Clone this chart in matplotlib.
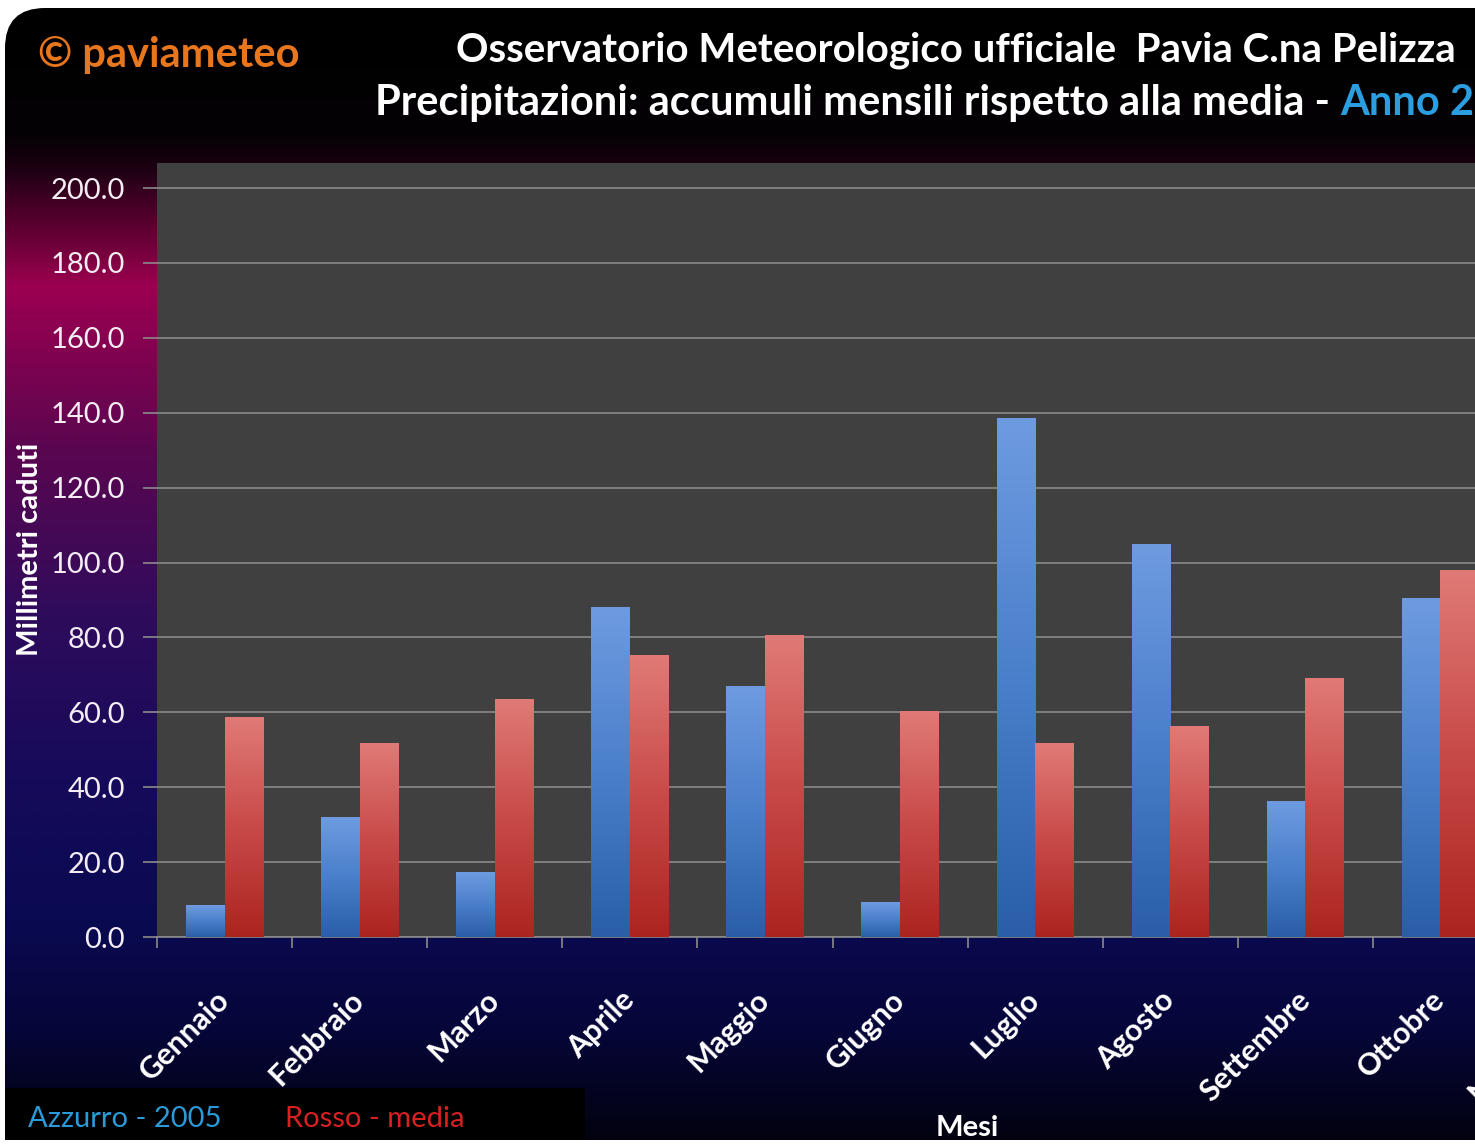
import numpy as np
import matplotlib
matplotlib.use('Agg')
import matplotlib.pyplot as plt
from matplotlib.colors import LinearSegmentedColormap
from matplotlib.patches import FancyBboxPatch, Rectangle

months = ['Gennaio', 'Febbraio', 'Marzo', 'Aprile', 'Maggio', 'Giugno',
          'Luglio', 'Agosto', 'Settembre', 'Ottobre', 'Novembre', 'Dicembre']
# only the first ten months are visible in the picture
rain_2005 = [8.3, 31.8, 17.1, 87.9, 66.8, 9.3, 138.6, 104.7, 36.3, 90.3]
rain_media = [58.5, 51.8, 63.3, 75.3, 80.4, 60.3, 51.8, 56.1, 68.9, 98.0]
yticks = np.arange(0, 201, 20)

W, H = 1475, 1147
plt.rcParams['font.family'] = ['Lato', 'DejaVu Sans']

fig = plt.figure(figsize=(W / 100, H / 100), dpi=100, facecolor='white')

# background with vertical gradient, in pixel coordinates
bg = fig.add_axes([0, 0, 1, 1])
bg.set_xlim(0, W)
bg.set_ylim(H, 0)
bg.axis('off')
stops = [(0, '#000000'), (130, '#040204'), (165, '#1c0012'), (285, '#9c0050'),
         (450, '#5a0650'), (620, '#2e0c5c'), (780, '#160a5a'), (920, '#0a0a52'),
         (1030, '#06063a'), (1147, '#02020e')]
cmap_bg = LinearSegmentedColormap.from_list('bg', [(p / H, c) for p, c in stops])
grad = np.linspace(0, 1, 500).reshape(-1, 1)
im = bg.imshow(grad, cmap=cmap_bg, extent=[0, W, H, 0], aspect='auto', zorder=0)
frame = FancyBboxPatch((5, 8), W + 100, H + 100, boxstyle='round,pad=0,rounding_size=40',
                       transform=bg.transData, facecolor='none', edgecolor='none')
bg.add_patch(frame)
im.set_clip_path(frame)
# white strip at very bottom and black legend box
bg.add_patch(Rectangle((0, 1140), W, 10, facecolor='white', edgecolor='none', zorder=2))
bg.add_patch(Rectangle((5, 1088), 580, 52, facecolor='black', edgecolor='none', zorder=3))

# main plot
cat_w = 135.1
ax = fig.add_axes([157 / W, 210 / H, 12 * cat_w / W, (937 - 163) / H])
ax.set_facecolor('#404040')

x = np.arange(len(rain_2005)) + 0.5
w = 0.2857
bars_b = ax.bar(x - w / 2, rain_2005, width=w, color='#4a7cc8', zorder=3)
bars_r = ax.bar(x + w / 2, rain_media, width=w, color='#c84a48', zorder=3)

cm_blue = LinearSegmentedColormap.from_list('b', ['#2a5ea8', '#4a7fcb', '#6e9be0'])
cm_red = LinearSegmentedColormap.from_list('r', ['#ac2420', '#c84a48', '#e07a76'])
g = np.linspace(0, 1, 200).reshape(-1, 1)
for bars, cm in ((bars_b, cm_blue), (bars_r, cm_red)):
    for b in bars:
        bx, by = b.get_x(), b.get_y()
        bw, bh = b.get_width(), b.get_height()
        ax.imshow(g, cmap=cm, origin='lower', extent=[bx, bx + bw, by, by + bh],
                  aspect='auto', zorder=4)
ax.set_xlim(0, 12)
ax.set_ylim(0, 206.7)

ax.set_yticks(yticks)
ax.set_yticklabels(['%.1f' % v for v in yticks])
ax.yaxis.grid(True, color='#8a8a8a', linewidth=1.2, zorder=1)
ax.set_axisbelow(True)
ax.tick_params(axis='y', length=10, width=1.2, color='#8a8a8a', pad=13,
               labelcolor='#f4eef4', labelsize=21)

ax.set_xticks(np.arange(0, 13))
ax.set_xticklabels([])
ax.set_xticks(np.arange(12) + 0.5, minor=True)
ax.set_xticklabels(months, minor=True, rotation=45, ha='right', va='center',
                   rotation_mode='anchor', color='white', fontsize=22, fontweight='bold')
ax.tick_params(axis='x', which='major', length=8, width=1.2, color='#8a8a8a')
ax.tick_params(axis='x', which='minor', length=0, pad=42)

for s in ('top', 'right', 'left'):
    ax.spines[s].set_visible(False)
ax.spines['bottom'].set_color('#8a8a8a')
ax.spines['bottom'].set_linewidth(1.2)

fig.text(30 / W, 1 - 549 / H, 'Millimetri caduti', rotation=90, ha='center', va='center',
         color='white', fontsize=21, fontweight='bold')
fig.text(967 / W, 1 - 1128 / H, 'Mesi', ha='center', va='center',
         color='white', fontsize=21, fontweight='bold')

fig.text(38 / W, 1 - 55 / H, '© paviameteo', ha='left', va='center',
         color='#e8761c', fontsize=30, fontweight='bold')
fig.text(956 / W, 1 - 50 / H, 'Osservatorio Meteorologico ufficiale  Pavia C.na Pelizza',
         ha='center', va='center', color='white', fontsize=29, fontweight='bold')
t2 = fig.text(375 / W, 1 - 103 / H, 'Precipitazioni: accumuli mensili rispetto alla media - ',
              ha='left', va='center', color='white', fontsize=30, fontweight='bold')
fig.canvas.draw()
ext = t2.get_window_extent()
fig.text(ext.x1 / W, 1 - 103 / H, 'Anno 2005', ha='left', va='center',
         color='#2a9ee0', fontsize=30, fontweight='bold')

fig.text(28 / W, 1 - 1119 / H, 'Azzurro - 2005', ha='left', va='center',
         color='#2a9ad8', fontsize=21)
fig.text(285 / W, 1 - 1119 / H, 'Rosso - media', ha='left', va='center',
         color='#d82020', fontsize=21)

fig.savefig('out.png', dpi=100, facecolor='white')
